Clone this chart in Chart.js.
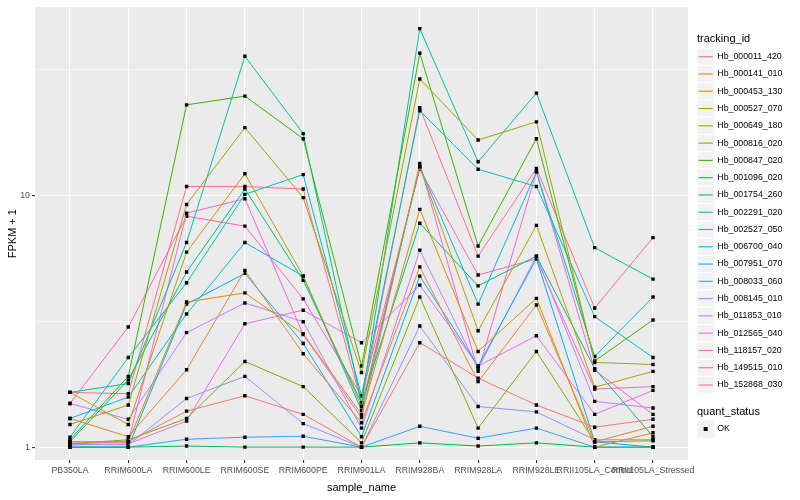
<!DOCTYPE html>
<html>
<head>
<meta charset="utf-8">
<script src="https://cdn.jsdelivr.net/npm/chart.js@4"></script>
<style>
  html, body { margin: 0; padding: 0; background: #ffffff; }
  canvas { display: block; }
</style>
</head>
<body>
<canvas id="chart" width="800" height="500"></canvas>
<script>
const categories = ["PB350LA", "RRIM600LA", "RRIM600LE", "RRIM600SE", "RRIM600PE", "RRIM901LA",
  "RRIM928BA", "RRIM928LA", "RRIM928LE", "RRII105LA_Control", "RRII105LA_Stressed"]

const trackingIds = ["Hb_000011_420", "Hb_000141_010", "Hb_000453_130", "Hb_000527_070", "Hb_000649_180",
  "Hb_000816_020", "Hb_000847_020", "Hb_001096_020", "Hb_001754_260", "Hb_002291_020",
  "Hb_002527_050", "Hb_006700_040", "Hb_007951_070", "Hb_008033_060", "Hb_008145_010",
  "Hb_011853_010", "Hb_012565_040", "Hb_118157_020", "Hb_149515_010", "Hb_152868_030"]

// ggplot default hue palette, 20 levels
const hueColors = ["#F8766D", "#EA8331", "#D89000", "#C09B00", "#A3A500", "#7CAE00", "#39B600", "#00BB4E",
  "#00BF7D", "#00C1A3", "#00BFC4", "#00BAE0", "#00B0F6", "#35A2FF", "#9590FF", "#C77CFF",
  "#E76BF3", "#FA62DB", "#FF62BC", "#FF6C91"]

// FPKM + 1, one array per tracking_id, in category order
const hb000011 = [1.05, 1.05, 1.39, 1.6, 1.35, 1.0, 2.6, 1.88, 1.47, 1.2, 1.29]
const hb000141 = [1.3, 1.1, 2.03, 5.04, 2.35, 1.25, 5.2, 1.82, 3.67, 1.05, 1.21]
const hb000453 = [1.05, 1.05, 3.77, 4.1, 2.82, 1.35, 8.8, 2.4, 3.9, 1.0, 1.14]
const hb000527 = [1.65, 1.23, 5.95, 12.2, 4.78, 1.45, 13.0, 2.9, 7.6, 1.73, 2.0]
const hb000649 = [1.23, 1.47, 9.2, 18.6, 9.8, 1.98, 29.0, 16.6, 19.6, 2.17, 2.13]
const hb000816 = [1.03, 1.07, 1.3, 2.19, 1.74, 1.04, 3.95, 1.19, 2.4, 1.05, 1.06]
const hb000847 = [1.07, 1.91, 22.9, 24.8, 16.8, 2.1, 36.7, 6.3, 16.8, 2.2, 3.2]
const hb001096 = [1.0, 1.0, 1.01, 1.0, 1.0, 1.0, 1.04, 1.01, 1.04, 1.0, 1.0]
const hb001754 = [1.05, 1.85, 4.96, 10.6, 4.6, 1.5, 7.75, 4.37, 5.74, 2.05, 1.1]
const hb002291 = [1.65, 1.79, 6.5, 35.7, 17.6, 1.5, 46.0, 13.6, 25.5, 6.2, 4.65]
const hb002527 = [1.095, 2.27, 4.5, 10.1, 12.1, 1.6, 21.7, 12.7, 10.85, 3.3, 2.27]
const hb006700 = [1.3, 1.58, 3.38, 6.5, 4.78, 1.4, 13.0, 3.7, 12.4, 2.29, 3.95]
const hb007951 = [1.0, 1.0, 3.7, 4.9, 2.58, 1.1, 4.78, 2.1, 5.6, 1.05, 1.0]
const hb008033 = [1.0, 1.0, 1.075, 1.095, 1.105, 1.0, 1.21, 1.085, 1.19, 1.0, 1.0]
const hb008145 = [1.03, 1.02, 1.56, 1.91, 1.24, 1.0, 3.03, 1.45, 1.38, 1.07, 1.07]
const hb011853 = [1.49, 1.29, 2.85, 3.74, 3.15, 1.19, 6.06, 2.05, 5.74, 1.52, 1.43]
const hb012565 = [1.02, 1.03, 1.27, 3.09, 3.5, 2.6, 4.4, 2.1, 2.77, 1.35, 1.68]
const hb118157 = [1.03, 1.05, 8.5, 9.7, 2.8, 1.31, 13.4, 2.0, 12.4, 2.02, 1.35]
const hb149515 = [1.49, 3.0, 8.27, 7.55, 3.88, 1.6, 12.7, 4.83, 5.6, 1.7, 1.74]
const hb152868 = [1.65, 1.63, 10.85, 10.85, 10.6, 1.5, 22.3, 5.74, 12.8, 3.57, 6.8]

const seriesValues = [hb000011, hb000141, hb000453, hb000527, hb000649, hb000816, hb000847, hb001096,
  hb001754, hb002291, hb002527, hb006700, hb007951, hb008033, hb008145, hb011853, hb012565,
  hb118157, hb149515, hb152868]

const yMajor = [1, 10]
const yMinor = [Math.sqrt(10), Math.sqrt(1000)]

const FONT = "'Liberation Sans', Arial, Helvetica, sans-serif"

const panelBg = {
  id: "panelBg",
  beforeDraw(chart) {
    const { ctx, chartArea: a } = chart
    ctx.save()
    ctx.fillStyle = "#EBEBEB"
    ctx.fillRect(a.left, a.top, a.right - a.left, a.bottom - a.top)
    ctx.restore()
  }
}

const ggLegend = {
  id: "ggLegend",
  afterDraw(chart) {
    const ctx = chart.ctx
    const x0 = 697
    const step = 17.28
    const keyW = 17.28
    ctx.save()
    ctx.textBaseline = "middle"
    ctx.textAlign = "left"
    ctx.fillStyle = "#000000"
    ctx.font = "11px " + FONT
    ctx.fillText("tracking_id", x0, 39)

    trackingIds.forEach((id, i) => {
      const cy = 56.7 + i * step
      ctx.fillStyle = "#F2F2F2"
      ctx.fillRect(x0, cy - step / 2, keyW, step)
      ctx.strokeStyle = "#ffffff"
      ctx.lineWidth = 1
      ctx.strokeRect(x0, cy - step / 2, keyW, step)
      ctx.strokeStyle = hueColors[i]
      ctx.lineWidth = 1.1
      ctx.beginPath()
      ctx.moveTo(x0 + 1.5, cy)
      ctx.lineTo(x0 + keyW - 1.5, cy)
      ctx.stroke()
      ctx.fillStyle = "#000000"
      ctx.font = "8.8px " + FONT
      ctx.fillText(id, x0 + keyW + 3, cy)
    })

    ctx.font = "11px " + FONT
    ctx.fillText("quant_status", x0, 412)
    const cy = 429
    ctx.fillStyle = "#F2F2F2"
    ctx.fillRect(x0, cy - step / 2, keyW, step)
    ctx.fillStyle = "#000000"
    ctx.fillRect(x0 + keyW / 2 - 2, cy - 2, 4, 4)
    ctx.font = "8.8px " + FONT
    ctx.fillText("OK", x0 + keyW + 3, cy)
    ctx.restore()
  }
}

const datasets = seriesValues.map((vals, i) => ({
  label: trackingIds[i],
  data: vals.map((v, j) => ({ x: j, y: v })),
  borderColor: hueColors[i],
  borderWidth: 1,
  backgroundColor: "#000000",
  pointStyle: "rect",
  pointRadius: 2.4,
  pointBorderWidth: 0,
  pointBackgroundColor: "#000000",
  pointBorderColor: "#000000",
  tension: 0,
  fill: false
}))

new Chart(document.getElementById("chart"), {
  type: "line",
  data: { datasets },
  options: {
    responsive: false,
    animation: false,
    devicePixelRatio: 1,
    layout: { padding: { top: 5, right: 112, left: 0, bottom: 0 } },
    plugins: {
      legend: { display: false },
      tooltip: { enabled: false }
    },
    scales: {
      x: {
        type: "linear",
        min: -0.6,
        max: 10.6,
        afterBuildTicks(scale) {
          scale.ticks = categories.map((c, i) => ({ value: i }))
        },
        afterFit(scale) { scale.height = 40 },
        ticks: {
          autoSkip: false,
          maxRotation: 0,
          minRotation: 0,
          padding: 2,
          color: "#4D4D4D",
          font: { family: FONT, size: 8.8 },
          callback: v => categories[v]
        },
        grid: {
          color: "#ffffff",
          lineWidth: 1.1,
          tickColor: "#333333",
          tickLength: 3
        },
        border: { display: false },
        title: {
          display: true,
          text: "sample_name",
          color: "#000000",
          font: { family: FONT, size: 11 },
          padding: { top: 0, bottom: 5 }
        }
      },
      y: {
        type: "logarithmic",
        min: 0.889,
        max: 55.9,
        afterBuildTicks(scale) {
          scale.ticks = [yMajor[0], yMinor[0], yMajor[1], yMinor[1]].map(v => ({ value: v }))
        },
        afterFit(scale) { scale.width = 35 },
        ticks: {
          padding: 2,
          color: "#4D4D4D",
          font: { family: FONT, size: 8.8 },
          callback: v => (yMajor.includes(v) ? String(v) : "")
        },
        grid: {
          color: "#ffffff",
          lineWidth: ctx => (ctx.tick && yMajor.includes(ctx.tick.value) ? 1.1 : 0.55),
          tickColor: ctx => (ctx.tick && yMajor.includes(ctx.tick.value) ? "#333333" : "rgba(0,0,0,0)"),
          tickLength: 3
        },
        border: { display: false },
        title: {
          display: true,
          text: "FPKM + 1",
          color: "#000000",
          font: { family: FONT, size: 11 },
          padding: { top: 6, bottom: 0 }
        }
      }
    }
  },
  plugins: [panelBg, ggLegend]
})
</script>
</body>
</html>
